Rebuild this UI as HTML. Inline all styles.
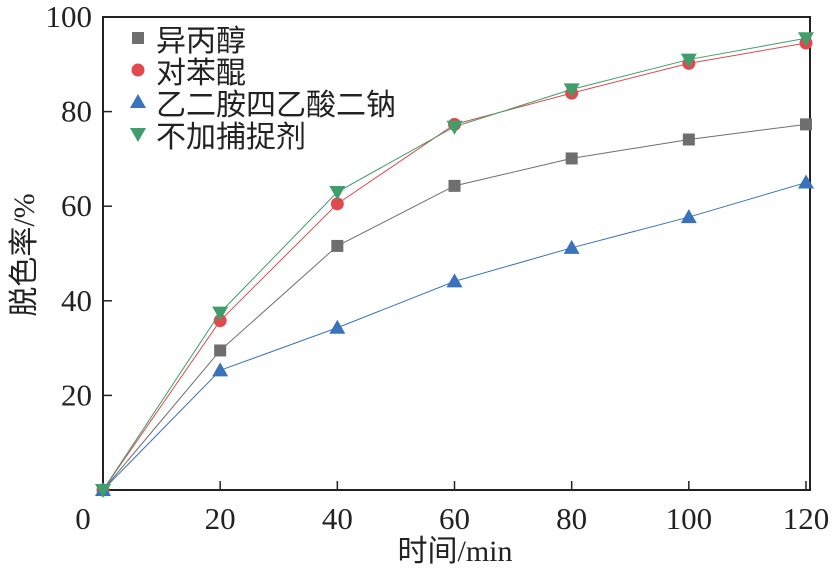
<!DOCTYPE html>
<html><head><meta charset="utf-8"><style>
body{margin:0;background:#fff}
svg{display:block}
text{font-family:"Liberation Serif","Noto Serif CJK SC",serif;fill:#222}
.cjk{font-family:"Liberation Serif","Noto Sans CJK SC",sans-serif}
</style></head><body>
<svg id="c" width="839" height="570"></svg>
<script>
const xTicks=[0,20,40,60,80,100,120];
const yTicks=[0,20,40,60,80,100];
const times=[0,20,40,60,80,100,120];
const isopropanol=[0,29.5,51.6,64.3,70.1,74.1,77.3];
const benzoquinone=[0,35.8,60.5,77.3,83.9,90.2,94.5];
const edta=[0,25.3,34.3,44.1,51.2,57.7,65.0];
const noScavenger=[0,37.5,63.0,76.8,84.7,91.0,95.5];
const names=["异丙醇","对苯醌","乙二胺四乙酸二钠","不加捕捉剂"];
const L=103,R=810,T=17,B=490;
const xs=v=>L+(v/120)*(806-L);
const ys=v=>B-(v/100)*(B-T);
const svg=document.getElementById('c');
const NS='http://www.w3.org/2000/svg';
function mk(t,a,p){const e=document.createElementNS(NS,t);for(const k in a)e.setAttribute(k,a[k]);(p||svg).appendChild(e);return e;}
let e=mk('rect',{x:L,y:T,width:R-L,height:B-T,fill:'none',stroke:'#222','stroke-width':2});


xTicks.forEach(v=>{
 let t=mk('line',{x1:xs(v),x2:xs(v),y1:B,y2:B-9,stroke:'#222','stroke-width':1.5});
 
 
 let l=mk('text',{x:v===0?83:xs(v),y:529,'font-size':31,'text-anchor':'middle'});l.textContent=v;
 
 
});
yTicks.forEach(v=>{
 let t=mk('line',{x1:L,x2:L+9,y1:ys(v),y2:ys(v),stroke:'#222','stroke-width':1.5});
 
 
 if(v===0)return;
 let l=mk('text',{x:92,y:ys(v)+10,'font-size':31,'text-anchor':'end'});l.textContent=v;
 
 
});
let xt=mk('text',{x:455,y:561,'font-size':30,'text-anchor':'middle',class:'cjk'});xt.textContent='时间/min';


let yt=mk('text',{x:0,y:0,'font-size':30,'text-anchor':'middle',class:'cjk',transform:'translate(34,255) rotate(-90)'});yt.textContent='脱色率/%';


const series=[[isopropanol,'#6e6e6e','sq'],[benzoquinone,'#e04a4f','ci'],[edta,'#3a72bc','tu'],[noScavenger,'#3f9e6b','td']];
function marker(sh,x,y,c,p){
 let m;
 if(sh==='sq')m=mk('rect',{x:x-6,y:y-6,width:12,height:12,fill:c},p);
 else if(sh==='ci')m=mk('circle',{cx:x,cy:y,r:6.5,fill:c},p);
 else if(sh==='tu')m=mk('polygon',{points:`${x},${y-8} ${x-8},${y+6} ${x+8},${y+6}`,fill:c},p);
 else m=mk('polygon',{points:`${x},${y+8} ${x-8},${y-6} ${x+8},${y-6}`,fill:c},p);
 return m;
}
series.forEach(([d,c,sh],i)=>{
 const g=mk('g',{});
 
 
 mk('polyline',{points:d.map((v,j)=>xs(times[j])+','+ys(v)).join(' '),fill:'none',stroke:c,'stroke-width':1},g);
 d.forEach((v,j)=>{const m=marker(sh,xs(times[j]),ys(v),c,g);
  
  });
 const ly=40+i*32;
 const lg=mk('g',{});
 
 
 marker(sh,138,ly-2,c,lg);
 let t=mk('text',{x:156,y:ly+11,'font-size':30,class:'cjk'},lg);t.textContent=names[i];
});
</script>
</body></html>
